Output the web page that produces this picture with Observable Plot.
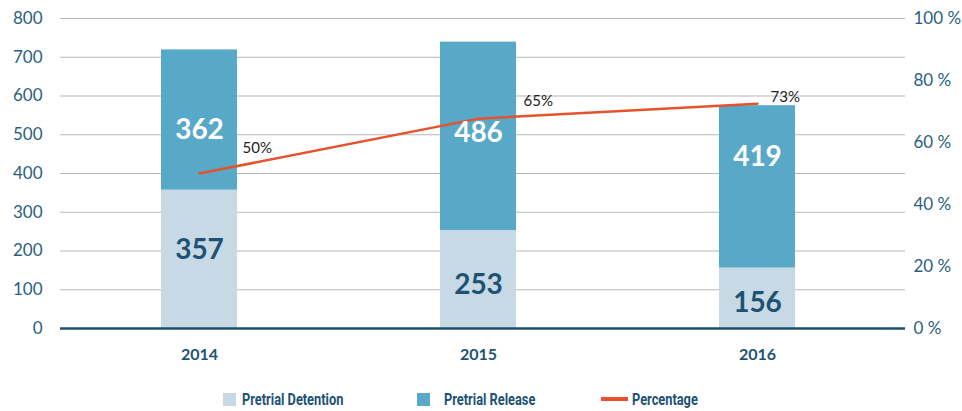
<!DOCTYPE html>
<html>
<head>
<meta charset="utf-8">
<script src="https://cdn.jsdelivr.net/npm/d3@7"></script>
<script src="https://cdn.jsdelivr.net/npm/@observablehq/plot@0.6"></script>
<style>
  body { margin: 0; background: #fff; }
  #wrap { position: relative; width: 962px; height: 411px; }
  #legend { position: absolute; left: 0; top: 389px; width: 962px; height: 20px;
    font-family: "Roboto", "Liberation Sans", sans-serif; font-weight: bold;
    font-size: 16px; color: #1d5274; }
  .item { position: absolute; top: 0; display: flex; align-items: center; height: 20px; white-space: nowrap; }
  .sw { width: 13px; height: 13px; margin-right: 6px; flex: none; }
  .ln { width: 27px; height: 4px; margin-right: 4px; flex: none; }
  .txt { display: inline-block; transform: scaleX(0.8); transform-origin: left center; }
</style>
</head>
<body>
<div id="wrap"><div id="chart"></div><div id="legend"></div></div>
<script>
const years = ["2014", "2015", "2016"];
const detention = [357, 253, 156];
const release = [362, 486, 419];
const percentage = [50, 67.7, 72.5];
const percentLabels = ["50%", "65%", "73%"];
const seriesNames = ["Pretrial Detention", "Pretrial Release"];
const seriesColors = ["#c7d9e5", "#58a8c8"];
const leftTicks = [0, 100, 200, 300, 400, 500, 600, 700, 800];
const rightTicks = [0, 20, 40, 60, 80, 100];

const rows = [];
years.forEach((yr, i) => {
  rows.push({year: yr, series: seriesNames[0], value: detention[i]});
  rows.push({year: yr, series: seriesNames[1], value: release[i]});
});
// label rows: midpoint of each stacked segment
const labelRows = [];
years.forEach((yr, i) => {
  labelRows.push({year: yr, series: seriesNames[0], value: detention[i], mid: detention[i] / 2, i});
  labelRows.push({year: yr, series: seriesNames[1], value: release[i], mid: detention[i] + release[i] / 2, i});
});
const pctRows = years.map((yr, i) => ({year: yr, pct: percentage[i], label: percentLabels[i]}));

// label placement tweaks (pixels), matching the original's hand-placed labels
const pctLabelOffsets = [[43, -25], [45, -17], [13, -7]];
const barLabelDy = {"Pretrial Detention": [-9, 6, 5], "Pretrial Release": [10, -3, -30]};

const navy = "#1d5274";
const font = "Lato, 'Open Sans', sans-serif";

const chart = Plot.plot({
  width: 962,
  height: 374,
  marginTop: 18,
  marginBottom: 46,
  marginLeft: 60,
  marginRight: 57,
  style: {fontFamily: font, background: "#fff"},
  x: {domain: years, paddingInner: 0.7276, paddingOuter: 0.3781, align: 0.479, label: null},
  y: {domain: [0, 800], label: null},
  color: {domain: seriesNames, range: seriesColors},
  marks: [
    Plot.ruleY(leftTicks.filter(d => d > 0), {stroke: "#b8b8b8", strokeWidth: 1.2}),
    Plot.barY(rows, Plot.stackY({x: "year", y: "value", fill: "series", order: seriesNames})),
    Plot.ruleY([0], {stroke: "#1d4f6e", strokeWidth: 2.5}),
    Plot.axisY(leftTicks, {anchor: "left", tickSize: 0, tickPadding: 18, fontSize: 17, fill: "#2a5f80", label: null}),
    Plot.axisY(rightTicks.map(d => d * 8), {anchor: "right", tickSize: 0, tickPadding: 8, fontSize: 17, fill: "#2a5f80",
      tickFormat: d => (d / 8) + " %", label: null}),
    Plot.axisX({tickSize: 0, tickPadding: 20, fontSize: 16, fontWeight: "bold", fill: navy, label: null}),
    Plot.line(pctRows, {x: "year", y: d => d.pct * 8, stroke: "#e4532b", strokeWidth: 2.5}),
    ...pctRows.map((r, k) => Plot.text([r], {x: "year", y: d => d.pct * 8, text: "label",
      dx: pctLabelOffsets[k][0], dy: pctLabelOffsets[k][1], textAnchor: "start", fontSize: 15, fill: "#222"})),
    ...labelRows.map(r => Plot.text([r], {
      x: "year", y: "mid", text: d => String(d.value), fontSize: 28, fontWeight: "bold",
      dy: barLabelDy[r.series][r.i],
      fill: r.series === seriesNames[0] ? navy : "#ffffff"}))
  ]
});
document.getElementById("chart").appendChild(chart);

const legend = document.getElementById("legend");
const items = [
  {left: 223, type: "sw", gap: 6, color: seriesColors[0], text: seriesNames[0]},
  {left: 417, type: "sw", gap: 14, color: seriesColors[1], text: seriesNames[1]},
  {left: 601, type: "ln", gap: 4, color: "#e4532b", text: "Percentage"}
];
items.forEach(it => {
  const d = document.createElement("div");
  d.className = "item";
  d.style.left = it.left + "px";
  const s = document.createElement("div");
  s.className = it.type;
  s.style.marginRight = it.gap + "px";
  s.style.background = it.color;
  const t = document.createElement("span");
  t.className = "txt";
  t.textContent = it.text;
  d.appendChild(s); d.appendChild(t);
  legend.appendChild(d);
});
</script>
</body>
</html>
